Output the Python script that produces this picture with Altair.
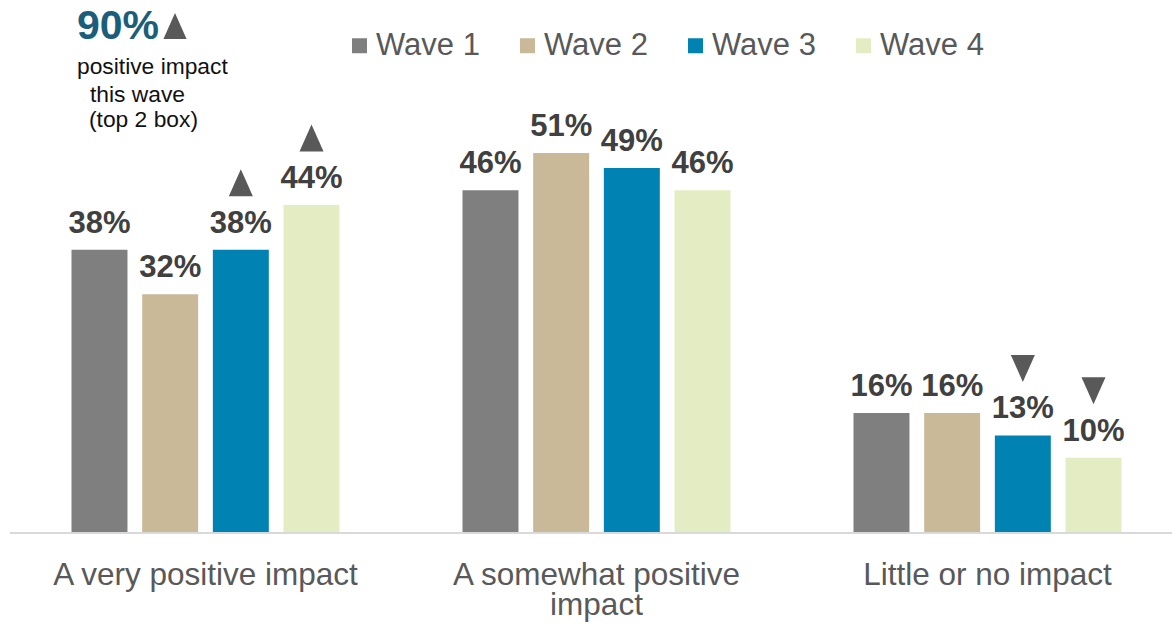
import altair as alt
import pandas as pd

categories = ["A very positive impact", "A somewhat positive impact", "Little or no impact"]
waves = ["Wave 1", "Wave 2", "Wave 3", "Wave 4"]
wave1 = [38, 46, 16]
wave2 = [32, 51, 16]
wave3 = [38, 49, 13]
wave4 = [44, 46, 10]
markers1 = ["", "", ""]
markers2 = ["", "", ""]
markers3 = ["up", "", "down"]
markers4 = ["up", "", "down"]
colors = ["#7F7F7F", "#C9B999", "#0083B3", "#E4ECC4"]

rows = []
for w, vals, marks in zip(waves, [wave1, wave2, wave3, wave4], [markers1, markers2, markers3, markers4]):
    for c, v, m in zip(categories, vals, marks):
        rows.append({"category": c, "wave": w, "value": v, "label": f"{v}%", "marker": m})
df = pd.DataFrame(rows)

FONT = "Liberation Sans"
UP = "M-0.89,1L0,-1L0.89,1Z"
DOWN = "M-0.89,-1L0,1L0.89,-1Z"

x = alt.X(
    "category:N", sort=categories,
    scale=alt.Scale(range=[0, 1173], paddingInner=0.277, paddingOuter=0.1385),
    axis=alt.Axis(title=None, domain=False, ticks=False, grid=False, labelAngle=0,
                  labelFontSize=31.5, labelColor="#595959", labelFont=FONT,
                  labelPadding=27, labelLineHeight=30, labelLimit=0, labelOverlap=False,
                  labelExpr="datum.label == 'A somewhat positive impact' ? ['A somewhat positive', 'impact'] : datum.label"),
)
xo = alt.XOffset("wave:N", sort=waves, scale=alt.Scale(paddingInner=0.208, paddingOuter=0.104))
y = alt.Y("value:Q", scale=alt.Scale(domain=[0, 71.6], nice=False, zero=True), axis=None)

base = alt.Chart(df)

bars = base.mark_bar().encode(
    x=x, xOffset=xo, y=y,
    color=alt.Color("wave:N", sort=waves, scale=alt.Scale(domain=waves, range=colors),
                    legend=alt.Legend(orient="none", direction="horizontal", legendX=334, legendY=30,
                                      title=None, symbolType="square", symbolSize=225,
                                      symbolStrokeWidth=0, symbolOpacity=1,
                                      labelFontSize=31, labelFont=FONT, labelColor="#595959",
                                      labelOffset=1, columnPadding=32, padding=0)),
)

labels = base.mark_text(baseline="alphabetic", dy=-17, fontSize=31, fontWeight="bold",
                        color="#404040", font=FONT).encode(
    x=x, xOffset=xo, y=y, text="label:N")

tri = base.transform_filter("datum.marker != ''").mark_point(
    filled=True, opacity=1, color="#595959", strokeWidth=0, yOffset=-67).encode(
    x=x, xOffset=xo, y=y,
    shape=alt.Shape("marker:N", scale=alt.Scale(domain=["up", "down"], range=[UP, DOWN]), legend=None),
    size=alt.value(729),
)

baseline = alt.Chart(pd.DataFrame({"v": [0]})).mark_rule(color="#D9D9D9", strokeWidth=2).encode(
    x=alt.value(0), x2=alt.value(1162), y=alt.value(533))

one = pd.DataFrame({"t": ["90%"]})
big = alt.Chart(one).mark_text(align="left", baseline="alphabetic", fontSize=41, fontWeight="bold",
                               color="#1B5E7B", font=FONT).encode(
    x=alt.value(67), y=alt.value(39), text="t:N")
bigtri = alt.Chart(one).mark_point(filled=True, opacity=1, color="#595959", strokeWidth=0, shape=UP).encode(
    x=alt.value(165), y=alt.value(26), size=alt.value(676))

def line(txt, xp, yp):
    return alt.Chart(pd.DataFrame({"t": [txt]})).mark_text(
        align="left", baseline="alphabetic", fontSize=22.8, color="#111111", font=FONT).encode(
        x=alt.value(xp), y=alt.value(yp), text="t:N")

sub1 = line("positive impact", 67, 74)
sub2 = line("this wave", 80, 102)
sub3 = line("(top 2 box)", 79, 127)

chart = alt.layer(baseline, bars, labels, tri, big, bigtri, sub1, sub2, sub3).properties(
    width=1162, height=532,
    padding={"left": 10, "top": 0, "right": 0, "bottom": 93},
    autosize=alt.AutoSizeParams(type="none"),
).configure_view(stroke=None)

chart.save("out.html", embed_options={"renderer": "svg", "actions": False})
